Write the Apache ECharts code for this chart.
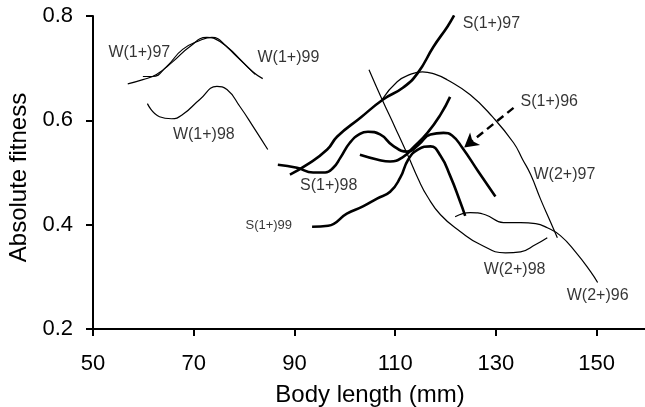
<!DOCTYPE html>
<html>
<head>
<meta charset="utf-8">
<script src="https://cdn.jsdelivr.net/npm/echarts@6/dist/echarts.min.js"></script>
<style>
  html, body { margin: 0; padding: 0; background: #fff; }
  #chart { width: 645px; height: 407px; }
</style>
</head>
<body>
<div id="chart"></div>
<script>
// curves: [body length, absolute fitness]
const w1_97 = [[56.9, 0.670], [59.9, 0.678], [62.6, 0.688], [65.8, 0.712], [69.2, 0.741], [72.6, 0.759], [75.2, 0.751], [78.6, 0.722], [81.7, 0.693], [83.7, 0.680]];
const w1_99 = [[59.9, 0.684], [61.8, 0.684], [64.6, 0.703], [67.8, 0.736], [71.2, 0.753], [73.6, 0.759], [76.6, 0.741], [79.8, 0.711], [82.2, 0.688]];
const w1_98 = [[60.8, 0.632], [63.2, 0.607], [65.6, 0.603], [67.8, 0.611], [71.2, 0.640], [74.6, 0.665], [76.6, 0.659], [79.2, 0.626], [81.8, 0.588], [84.7, 0.544]];

const s1_97 = [[89.1, 0.496], [92.5, 0.515], [96.5, 0.544], [98.5, 0.569], [103.1, 0.605], [107.6, 0.640], [111.6, 0.663], [114.5, 0.691], [117.6, 0.741], [120.4, 0.780], [121.7, 0.801]];
const s1_98 = [[86.7, 0.515], [90.5, 0.509], [93.7, 0.500], [96.1, 0.500], [97.7, 0.509], [99.1, 0.528], [101.0, 0.557], [103.0, 0.574], [104.6, 0.578], [107.0, 0.573], [109.6, 0.551], [112.4, 0.540], [114.6, 0.553], [117.0, 0.573], [119.6, 0.576], [121.3, 0.571], [123.3, 0.548], [126.5, 0.502], [129.9, 0.454]];
const s1_99 = [[93.5, 0.396], [96.7, 0.398], [100.4, 0.421], [103.6, 0.435], [106.4, 0.450], [109.0, 0.463], [111.0, 0.490], [112.6, 0.525], [114.5, 0.544], [117.0, 0.550], [119.0, 0.532], [120.9, 0.494], [122.9, 0.444], [123.9, 0.417]];
const s1_96 = [[103.0, 0.534], [106.4, 0.525], [109.0, 0.521], [111.6, 0.530], [113.6, 0.548], [116.4, 0.576], [119.0, 0.611], [120.9, 0.645]];

const w2_97 = [[107.4, 0.640], [110.4, 0.674], [113.0, 0.688], [115.4, 0.693], [118.0, 0.688], [120.3, 0.678], [124.9, 0.649], [129.3, 0.607], [133.5, 0.557], [135.3, 0.525], [136.9, 0.496], [138.9, 0.448], [140.8, 0.406], [142.2, 0.375]];
const w2_98 = [[104.8, 0.697], [107.4, 0.640], [110.0, 0.586], [112.6, 0.531], [114.6, 0.487], [116.4, 0.454], [119.0, 0.419], [122.9, 0.387], [126.9, 0.362], [131.9, 0.346], [134.9, 0.348], [137.9, 0.362], [140.2, 0.375]];
const w2_96 = [[121.9, 0.415], [124.9, 0.423], [127.9, 0.419], [131.5, 0.404], [134.9, 0.404], [137.9, 0.402], [140.2, 0.394], [142.8, 0.379], [145.8, 0.348], [148.8, 0.310], [150.2, 0.289]];

// curve names and where their labels sit
const labelNames = ["W(1+)97", "W(1+)99", "W(1+)98", "S(1+)98", "S(1+)99", "S(1+)97", "S(1+)96", "W(2+)97", "W(2+)98", "W(2+)96"];
const labelX = [59.2, 88.8, 72.0, 96.8, 84.9, 129.1, 140.6, 143.6, 133.7, 150.2];
const labelY = [0.730, 0.721, 0.573, 0.475, 0.398, 0.785, 0.635, 0.496, 0.314, 0.264];

// dashed arrow from the S(1+)96 label
const arrowFrom = [133.5, 0.624];
const arrowTo = [123.7, 0.548];

const xTicks = [50, 70, 90, 110, 130, 150];

const FONT = "'Liberation Sans', Arial, sans-serif";
const chart = echarts.init(document.getElementById("chart"));

function curve(data, thick) {
  return {
    type: "line",
    data: data,
    smooth: true,
    symbol: "none",
    silent: true,
    lineStyle: { color: "#000", width: thick ? 2.6 : 1.2 },
  };
}

const labelData = labelNames.map(function (n, i) {
  return {
    value: [labelX[i], labelY[i]],
    name: n,
    label: { fontSize: n === "S(1+)99" ? 13 : 16 },
  };
});

const option = {
  animation: false,
  grid: { left: 93, right: -2, top: 16, bottom: 78, outerBoundsMode: "none" },
  xAxis: {
    type: "value",
    min: 50,
    max: 160,
    name: "Body length (mm)",
    nameLocation: "middle",
    nameGap: 54,
    nameTextStyle: { fontSize: 24, color: "#000", fontFamily: FONT },
    axisLine: { lineStyle: { color: "#000", width: 2 } },
    axisTick: { customValues: xTicks, length: 7, lineStyle: { color: "#000", width: 2 } },
    axisLabel: { customValues: xTicks, fontSize: 22, color: "#000", fontFamily: FONT, margin: 24 },
    splitLine: { show: false },
  },
  yAxis: {
    type: "value",
    min: 0.2,
    max: 0.8,
    interval: 0.2,
    name: "Absolute fitness",
    nameLocation: "middle",
    nameGap: 62,
    nameTextStyle: { fontSize: 24, color: "#000", fontFamily: FONT, padding: [0, 10, 0, 0] },
    axisLine: { show: true, lineStyle: { color: "#000", width: 2 } },
    axisTick: { show: true, length: 7, lineStyle: { color: "#000", width: 2 } },
    axisLabel: { fontSize: 22, color: "#000", fontFamily: FONT, margin: 20, formatter: function (v) { return v.toFixed(1); } },
    splitLine: { show: false },
  },
  series: [
    curve(w1_97, false),
    curve(w1_99, false),
    curve(w1_98, false),
    curve(s1_97, true),
    curve(s1_98, true),
    curve(s1_99, true),
    curve(s1_96, true),
    curve(w2_97, false),
    curve(w2_98, false),
    curve(w2_96, false),
    {
      type: "scatter",
      data: labelData,
      symbolSize: 1,
      silent: true,
      itemStyle: { color: "rgba(0,0,0,0)" },
      label: {
        show: true,
        position: "inside",
        color: "#000",
        fontFamily: FONT,
        formatter: function (p) { return p.name; },
      },
      markLine: {
        silent: true,
        symbol: ["none", "arrow"],
        symbolSize: [12, 14],
        label: { show: false },
        lineStyle: { color: "#000", width: 2.4, type: [8, 5] },
        data: [[{ coord: arrowFrom }, { coord: arrowTo }]],
      },
    },
  ],
};
chart.setOption(option);
</script>
</body>
</html>
